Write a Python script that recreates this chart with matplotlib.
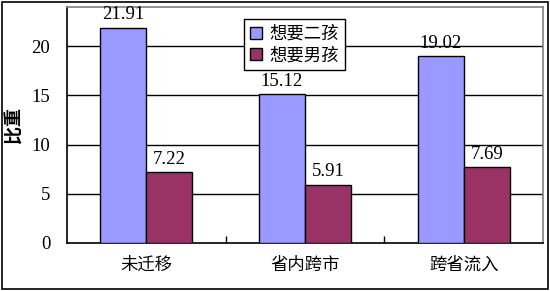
import numpy as np
import matplotlib.pyplot as plt
from matplotlib.patches import Rectangle

plt.rcParams['font.family'] = ['Liberation Serif', 'Noto Sans CJK SC']

categories = ['未迁移', '省内跨市', '跨省流入']
series_names = ['想要二孩', '想要男孩']
want_second = [21.91, 15.12, 19.02]
want_boy = [7.22, 5.91, 7.69]
colors = ['#9999FF', '#993366']

fig = plt.figure(figsize=(5.5, 2.91), dpi=100)
ax = fig.add_axes([0.1218, 0.165, 0.8655, 0.811])

x = np.arange(len(categories))
w = 0.29
b1 = ax.bar(x - w/2, want_second, w, color=colors[0], edgecolor='k', lw=1, label=series_names[0], zorder=3)
b2 = ax.bar(x + w/2, want_boy, w, color=colors[1], edgecolor='k', lw=1, label=series_names[1], zorder=3)

for bars, vals in [(b1, want_second), (b2, want_boy)]:
    for r, v in zip(bars, vals):
        ax.text(r.get_x() + r.get_width()/2, v + 0.45, '%.2f' % v, ha='center', va='bottom',
                fontsize=13.5, family=['Liberation Serif'])

ax.set_xlim(-0.5, 2.5)
ax.set_ylim(0, 24)
ax.set_yticks([0, 5, 10, 15, 20])
for yv in [5, 10, 15, 20]:
    ax.axhline(yv, color='k', lw=1, zorder=1)

ax.set_xticks(x)
ax.set_xticklabels(categories, family=['Noto Sans CJK SC'], fontsize=12.5)
ax.tick_params(axis='x', length=0, pad=9)
ax.set_xticks([0.5, 1.5], minor=True)
ax.tick_params(axis='x', which='minor', direction='in', length=5, width=1)
ax.tick_params(axis='y', length=0, labelsize=13.5, pad=12)

ax.spines['top'].set_color('#808080')
ax.spines['right'].set_color('#808080')
ax.spines['left'].set_color('k')
ax.spines['bottom'].set_color('k')
for s in ax.spines.values():
    s.set_linewidth(1.2)

ax.set_ylabel('比重', family=['Noto Sans CJK SC'], fontsize=13, fontweight='bold', labelpad=6)

leg = ax.legend(loc='upper left', bbox_to_anchor=(0.372, 0.95), prop={'family': 'Noto Sans CJK SC', 'size': 12.5},
                frameon=True, fancybox=False, edgecolor='k', framealpha=1,
                handlelength=0.7, handleheight=0.7, handletextpad=0.4, labelspacing=0.2,
                borderpad=0.35, borderaxespad=0)
leg.get_frame().set_linewidth(1)

fig.patches.append(Rectangle((2/550, 2/291), 546/550, 287/291, transform=fig.transFigure,
                             fill=False, edgecolor='k', lw=1.2))

fig.savefig('out.png', dpi=100)
